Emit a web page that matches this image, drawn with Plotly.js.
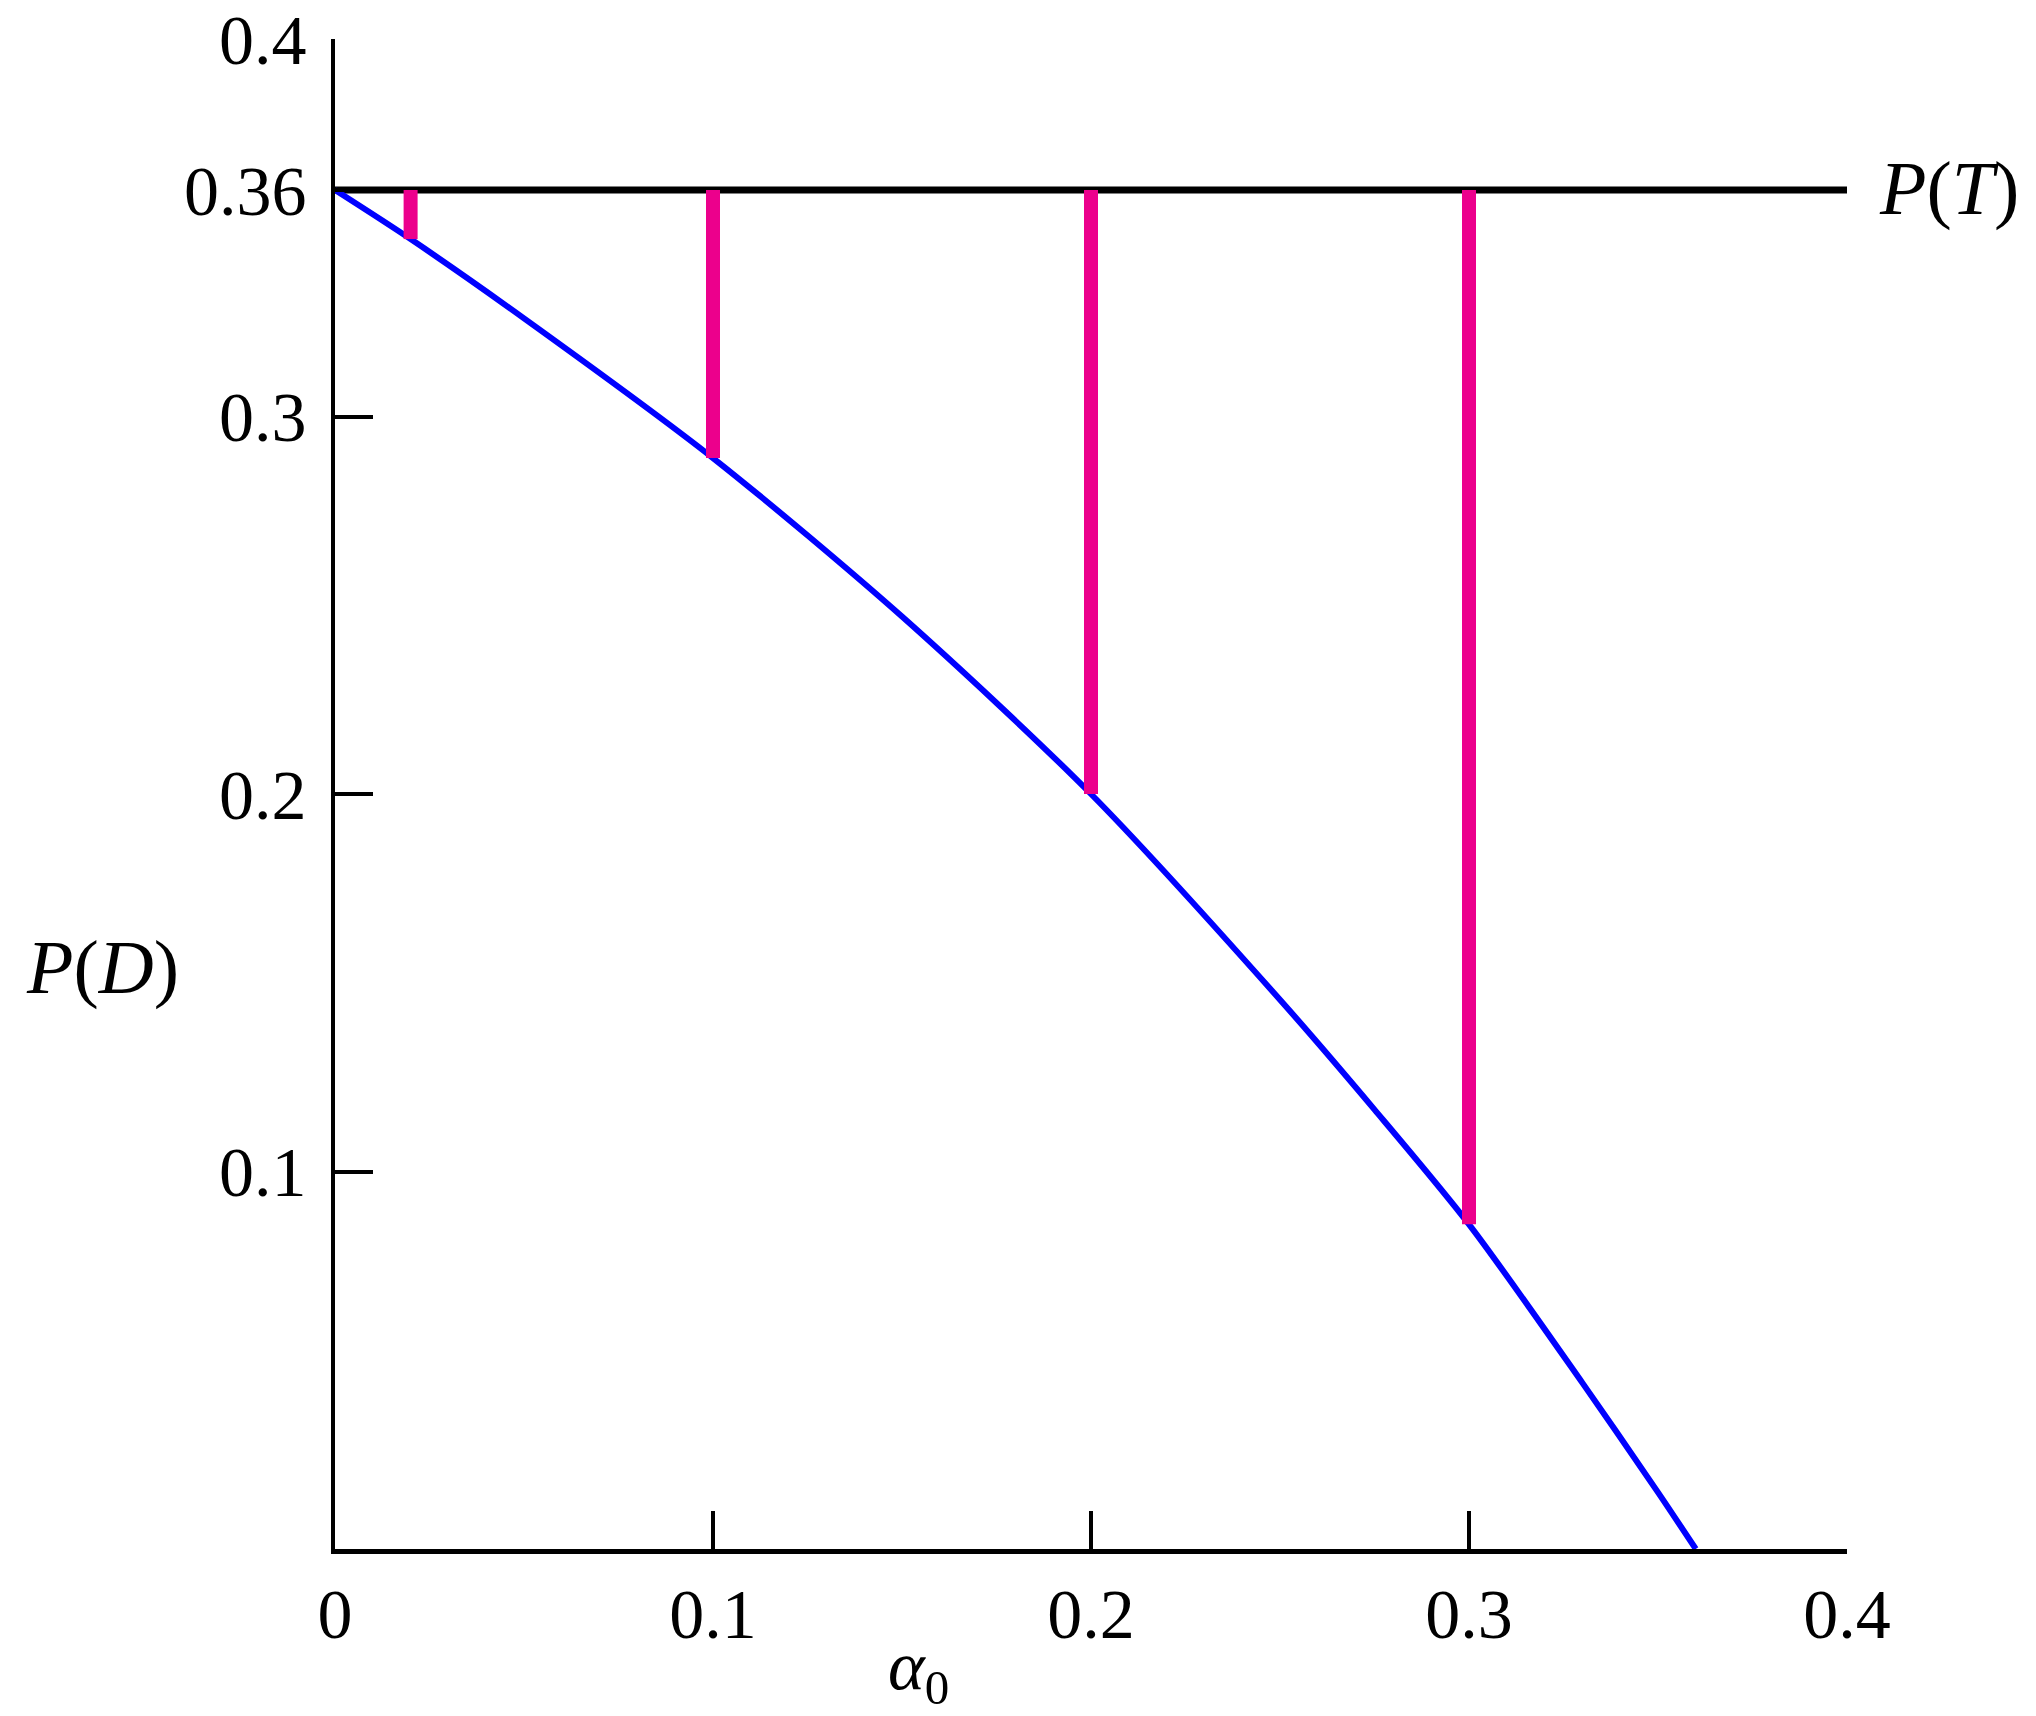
<!DOCTYPE html>
<html>
<head>
<meta charset="utf-8">
<script src="https://cdn.plot.ly/plotly-3.0.1.min.js"></script>
<style>
  body { margin: 0; background: #fff; }
  #chart { width: 2036px; height: 1716px; }
</style>
</head>
<body>
<div id="chart"></div>
<script>
// P(D) curve
const alpha = [0, 0.02, 0.05, 0.1, 0.15, 0.2, 0.25, 0.275, 0.3, 0.33, 0.35, 0.36];
const pD = [0.36, 0.347, 0.326, 0.289, 0.247, 0.2, 0.1455, 0.1164, 0.086, 0.044, 0.015, 0];

// P(T) level
const pT = 0.36;

// vertical gaps between P(T) and P(D)
const gapAlpha = [0.02, 0.1, 0.2, 0.3];
const gapBottom = [0.347, 0.289, 0.2, 0.086];

const xTicks = [0, 0.1, 0.2, 0.3, 0.4];
const xTickText = ['0', '0.1', '0.2', '0.3', '0.4'];
const yTicks = [0.1, 0.2, 0.3, 0.36, 0.4];
const yTickText = ['0.1', '0.2', '0.3', '0.36', '0.4'];

const serif = 'Liberation Serif, Times New Roman, serif';

// build the gap segments
const gx = [], gy = [];
gapAlpha.forEach((a, i) => {
    gx.push(a, a, null);
    gy.push(pT, gapBottom[i], null);
});

const data = [
    {
        x: [0, 0.4],
        y: [pT, pT],
        mode: 'lines',
        line: {color: '#000000', width: 7},
        cliponaxis: false,
        hoverinfo: 'skip'
    },
    {
        x: alpha,
        y: pD,
        mode: 'lines',
        line: {color: '#0000ff', width: 6, shape: 'spline', smoothing: 0.8},
        cliponaxis: false
    },
    {
        x: gx,
        y: gy,
        mode: 'lines',
        line: {color: '#ec008c', width: 14},
        cliponaxis: false
    }
];

const axisCommon = {
    showgrid: false,
    zeroline: false,
    showline: true,
    linecolor: '#000000',
    linewidth: 4.5,
    ticks: 'inside',
    ticklen: 38,
    tickwidth: 4,
    tickcolor: '#000000',
    tickfont: {family: serif, size: 70, color: '#000000'}
};

const layout = {
    width: 2036,
    height: 1716,
    showlegend: false,
    margin: {l: 335, r: 189, t: 39, b: 167},
    paper_bgcolor: '#ffffff',
    plot_bgcolor: '#ffffff',
    xaxis: Object.assign({}, axisCommon, {
        range: [0, 0.4],
        tickvals: xTicks,
        ticktext: xTickText,
        ticklabelstandoff: 0
    }),
    yaxis: Object.assign({}, axisCommon, {
        range: [0, 0.4],
        tickvals: yTicks,
        ticktext: yTickText,
        ticklabelstandoff: 10
    }),
    annotations: [
        {
            text: '<i>P</i>(<i>T</i>)',
            xref: 'x', yref: 'y',
            x: 0.4, y: pT,
            xanchor: 'left', yanchor: 'middle',
            xshift: 30, yshift: 2,
            showarrow: false,
            font: {family: serif, size: 76, color: '#000000'}
        },
        {
            text: '<i>P</i>(<i>D</i>)',
            xref: 'paper', yref: 'paper',
            x: -0.206, y: 0.385,
            xanchor: 'left', yanchor: 'middle',
            showarrow: false,
            font: {family: serif, size: 76, color: '#000000'}
        },
        {
            text: '<i>α</i><sub>0</sub>',
            xref: 'paper', yref: 'paper',
            x: 0.386, y: 0,
            xanchor: 'center', yanchor: 'middle',
            yshift: -122,
            showarrow: false,
            font: {family: serif, size: 70, color: '#000000'}
        }
    ]
};

Plotly.newPlot('chart', data, layout, {staticPlot: true});
</script>
</body>
</html>
